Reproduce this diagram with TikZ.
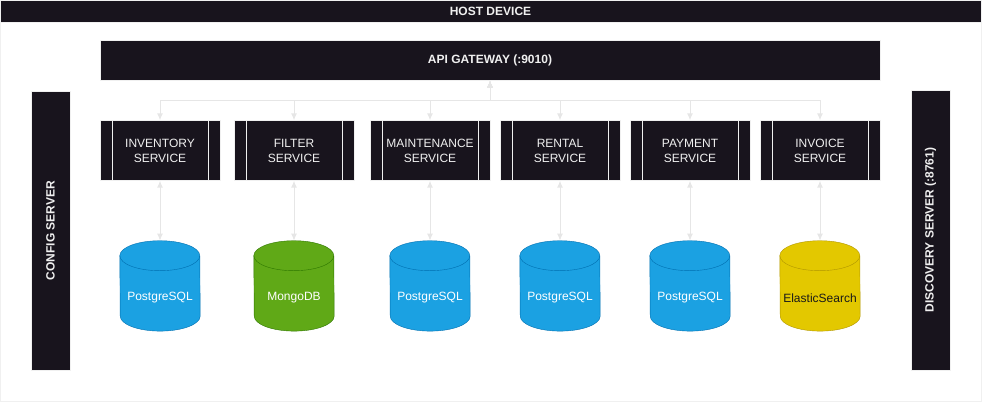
\documentclass[tikz,border=0pt]{standalone}
\usepackage{fontspec}
\setmainfont{Liberation Sans}
\usetikzlibrary{arrows.meta,positioning}
\definecolor{darkfill}{HTML}{18141D}
\definecolor{lightline}{HTML}{F0F0F0}
\definecolor{wire}{HTML}{E6E6E6}
\definecolor{pgblue}{HTML}{1BA1E2}
\definecolor{pgedge}{HTML}{006EAF}
\definecolor{mggreen}{HTML}{60A917}
\definecolor{mgedge}{HTML}{2D7600}
\definecolor{esyellow}{HTML}{E3C800}
\definecolor{esedge}{HTML}{B09500}
\tikzset{
    bar/.style = {draw=lightline, fill=darkfill, text=lightline,
        font=\bfseries\fontsize{12}{14}\selectfont},
    service/.style = {draw=lightline, fill=darkfill, text=lightline,
        font=\fontsize{12}{15}\selectfont, align=center,
        minimum width=120pt, minimum height=60pt,
        path picture={
            \draw[lightline] ([xshift=12pt]path picture bounding box.north west) -- ([xshift=12pt]path picture bounding box.south west);
            \draw[lightline] ([xshift=-12pt]path picture bounding box.north east) -- ([xshift=-12pt]path picture bounding box.south east);
        }},
    db/.style = {minimum width=80pt, minimum height=90pt, inner sep=0pt},
    dbtext/.style = {font=\fontsize{12}{14}\selectfont, inner sep=0pt},
    dbcap/.style = {x radius=40pt, y radius=15pt},
    link/.style = {draw=wire, line width=1pt, <->}
}

\begin{document}
\begin{tikzpicture}[x=1pt, y=-1pt, >={Latex[length=7pt,width=6pt]}]
    \useasboundingbox (0,0) rectangle (982,402);
    \draw[lightline] (0.5,0.5) rectangle (981.5,401.5);
    % top bars
    \node [bar, minimum width=981pt, minimum height=22pt] (host) at (490.5,11.5) {HOST DEVICE};
    \node [bar, minimum width=780pt, minimum height=40pt] (gateway) at (490,60.5) {API GATEWAY (:9010)};
    \coordinate (hub) at (490,100.5);
    % side servers
    \node [bar, rotate=90, minimum width=279pt, minimum height=39pt] (config) at (50.5,230.5) {CONFIG SERVER};
    \node [bar, rotate=90, minimum width=280pt, minimum height=39pt] (discovery) at (930.5,230) {DISCOVERY SERVER (:8761)};
    % services
    \foreach \name/\xc/\txt in {inventory/160/INVENTORY\\SERVICE, filter/294/FILTER\\SERVICE,
        maintenance/430/MAINTENANCE\\SERVICE, rental/560/RENTAL\\SERVICE,
        payment/690/PAYMENT\\SERVICE, invoice/820/INVOICE\\SERVICE}{
        \node [service] (\name) at (\xc,150.5) {\txt};
        \draw [link] (\name.north) |- (hub) -- (gateway.south);
    }
    % databases
    \foreach \name/\col/\edge/\tcol/\txt in {inventory/pgblue/pgedge/white/PostgreSQL, filter/mggreen/mgedge/white/MongoDB,
        maintenance/pgblue/pgedge/white/PostgreSQL, rental/pgblue/pgedge/white/PostgreSQL,
        payment/pgblue/pgedge/white/PostgreSQL, invoice/esyellow/esedge/black!90/ElasticSearch}{
        \node [db, below=60pt of \name] (\name-db) {};
        \draw [fill=\col, draw=\edge] ([yshift=-15pt]\name-db.north west) arc[dbcap, start angle=180, end angle=0]
            -- ([yshift=15pt]\name-db.south east) arc[dbcap, start angle=0, end angle=-180] -- cycle;
        \draw [draw=\edge] ([yshift=-15pt]\name-db.north west) arc[dbcap, start angle=180, end angle=360];
        \node [dbtext, text=\tcol] (\name-label) at ([yshift=-12pt]\name-db.center) {\txt};
        \draw [link] (\name.south) -- (\name-db.north);
    }
\end{tikzpicture}
\end{document}
